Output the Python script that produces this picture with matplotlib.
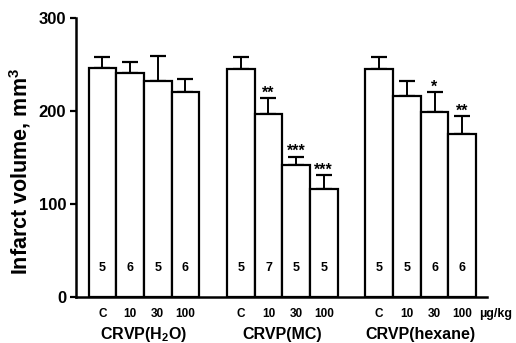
import matplotlib
matplotlib.use("Agg")
import matplotlib.pyplot as plt

plt.rcParams['font.family'] = ['Liberation Sans', 'DejaVu Sans']
plt.rcParams['font.weight'] = 'bold'
plt.rcParams['mathtext.fontset'] = 'custom'
plt.rcParams['mathtext.rm'] = 'Liberation Sans:bold'
plt.rcParams['mathtext.bf'] = 'Liberation Sans:bold'
plt.rcParams['mathtext.default'] = 'bf'

groups = ["CRVP(H$_2$O)", "CRVP(MC)", "CRVP(hexane)"]
doses = ["C", "10", "30", "100"]
means = [
    [246, 241, 232, 220],
    [245, 197, 142, 116],
    [245, 216, 199, 175],
]
errors = [
    [12, 12, 27, 14],
    [13, 17, 9, 15],
    [13, 16, 21, 19],
]
n_values = [
    [5, 6, 5, 6],
    [5, 7, 5, 5],
    [5, 5, 6, 6],
]
stars = [
    ["", "", "", ""],
    ["", "**", "***", "***"],
    ["", "", "*", "**"],
]

fig = plt.figure(figsize=(5.16, 3.43), dpi=100)
ax = fig.add_axes([0.147, 0.134, 0.797, 0.814])

xs_all, labels_all = [], []
for g in range(3):
    xs = [g * 5 + i for i in range(4)]
    ax.bar(xs, means[g], width=1.0, color='white', edgecolor='black',
           linewidth=1.6, zorder=2)
    ax.errorbar(xs, means[g], yerr=[[0] * 4, errors[g]], fmt='none',
                ecolor='black', elinewidth=1.4, capsize=6, capthick=1.6, zorder=1)
    for x, m, e, n, s in zip(xs, means[g], errors[g], n_values[g], stars[g]):
        ax.text(x, 31, str(n), ha='center', va='center', fontsize=9,
                fontweight='bold')
        if s:
            ax.text(x, m + e + 0.5, s, ha='center', va='baseline', fontsize=11.5,
                    fontweight='bold')
    xs_all += xs
    labels_all += doses
    ax.text(g * 5 + 1.5, -0.133, groups[g], transform=ax.get_xaxis_transform(),
            ha='center', va='center', fontsize=11.5, fontweight='bold')

ax.text(13.6, -0.06, "µg/kg", transform=ax.get_xaxis_transform(),
        ha='left', va='center', fontsize=9, fontweight='bold')

ax.set_xticks(xs_all)
ax.set_xticklabels(labels_all, fontsize=8.5, fontweight='bold')
ax.tick_params(axis='x', length=0, pad=8)
ax.set_xlim(-0.96, 13.9)
ax.set_ylim(0, 300)
ax.set_yticks([0, 100, 200, 300])
ax.set_yticklabels(["0", "100", "200", "300"], fontsize=12, fontweight='bold')
ax.tick_params(axis='y', length=4, width=1.6, direction='out', pad=3)
ax.set_ylabel("Infarct volume, mm$^3$", fontsize=15.5, fontweight='bold')
ax.yaxis.set_label_coords(-0.105, 0.45)
for sp in ['top', 'right']:
    ax.spines[sp].set_visible(False)
for sp in ['left', 'bottom']:
    ax.spines[sp].set_linewidth(1.8)

fig.savefig("out.png", dpi=100)
